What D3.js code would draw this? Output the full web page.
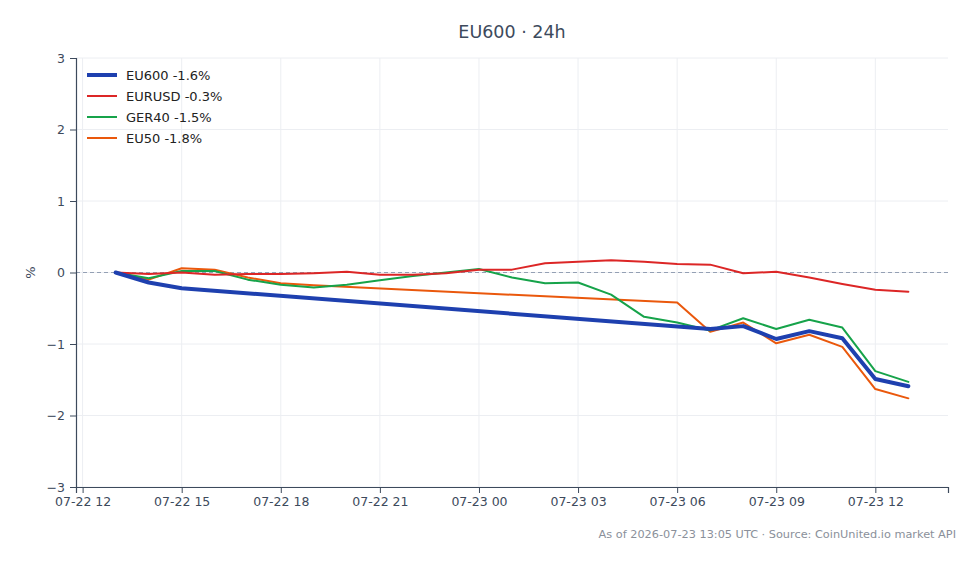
<!DOCTYPE html>
<html>
<head>
<meta charset="utf-8">
<script src="https://cdn.jsdelivr.net/npm/d3@7"></script>
<style>
  body { margin: 0; background: #fff; font-family: "DejaVu Sans", sans-serif; }
  svg { display: block; }
</style>
</head>
<body>
<div id="chart"></div>
<script>
// hourly stamps, UTC
const hoursAll = d3.utcHours(new Date(Date.UTC(2026, 6, 22, 13)), new Date(Date.UTC(2026, 6, 23, 14)));
const hoursEarly = hoursAll.slice(0, 3);           // 13..15
const hoursEarly50 = hoursAll.slice(0, 7);         // 13..19
const hoursLate = hoursAll.slice(18);              // 07-23 07..13
const hoursLate50 = hoursAll.slice(17);            // 07-23 06..13

const eu600Values = [0, -0.14, -0.22, -0.79, -0.75, -0.93, -0.82, -0.92, -1.49, -1.59];
const eurusdValues = [0, -0.02, 0.0, -0.03, -0.02, -0.02, -0.01, 0.01, -0.03, -0.03, -0.01, 0.04, 0.04,
  0.13, 0.15, 0.17, 0.15, 0.12, 0.11, -0.01, 0.01, -0.07, -0.16, -0.24, -0.27];
const ger40Values = [0, -0.08, 0.02, 0.02, -0.10, -0.17, -0.21, -0.17, -0.11, -0.05, 0.0, 0.05, -0.07,
  -0.15, -0.14, -0.31, -0.62, -0.70, -0.81, -0.64, -0.79, -0.66, -0.77, -1.38, -1.53];
const eu50Values = [0, -0.10, 0.06, 0.04, -0.07, -0.15, -0.18, -0.42, -0.83, -0.70, -0.99, -0.87, -1.04, -1.63, -1.76];

const seriesNames = ["EU600", "EURUSD", "GER40", "EU50"];
const seriesLabels = ["EU600 -1.6%", "EURUSD -0.3%", "GER40 -1.5%", "EU50 -1.8%"];
const seriesColors = ["#1e40af", "#dc2626", "#16a34a", "#ea580c"];
const seriesWidths = [4, 2, 2, 2];

const series = [
  hoursEarly.concat(hoursLate).map((t, i) => ({ t, v: eu600Values[i] })),
  hoursAll.map((t, i) => ({ t, v: eurusdValues[i] })),
  hoursAll.map((t, i) => ({ t, v: ger40Values[i] })),
  hoursEarly50.concat(hoursLate50).map((t, i) => ({ t, v: eu50Values[i] })),
];

const W = 980, H = 564;
const M = { top: 58, right: 32, bottom: 77, left: 76 };
const iw = W - M.left - M.right, ih = H - M.top - M.bottom;

const svg = d3.select("#chart").append("svg").attr("width", W).attr("height", H);

const t0 = hoursAll[0], t1 = hoursAll[hoursAll.length - 1];
const pad = (t1 - t0) * 0.05;
const x = d3.scaleUtc().domain([new Date(+t0 - pad), new Date(+t1 + pad)]).range([0, iw]);
const y = d3.scaleLinear().domain([-3, 3]).range([ih, 0]);

const g = svg.append("g").attr("transform", `translate(${M.left},${M.top})`);

const xTicks = d3.utcHour.every(3).range(x.domain()[0], x.domain()[1]);
const yTicks = d3.range(-3, 4);

// grid
g.append("g").selectAll("line").data(xTicks).join("line")
  .attr("x1", d => x(d)).attr("x2", d => x(d)).attr("y1", 0).attr("y2", ih)
  .attr("stroke", "#eceef2").attr("stroke-width", 1);
g.append("g").selectAll("line").data(yTicks).join("line")
  .attr("x1", 0).attr("x2", iw).attr("y1", d => y(d)).attr("y2", d => y(d))
  .attr("stroke", "#eceef2").attr("stroke-width", 1);

// zero line
g.append("line").attr("x1", 0).attr("x2", iw).attr("y1", y(0)).attr("y2", y(0))
  .attr("stroke", "#94a0b4").attr("stroke-width", 1).attr("stroke-dasharray", "4,3");

// axes
const axisColor = "#3d4a5c";
const xAxis = g.append("g").attr("transform", `translate(0,${ih})`)
  .call(d3.axisBottom(x).tickValues(xTicks).tickFormat(d3.utcFormat("%m-%d %H")).tickSize(6).tickPadding(4));
const yAxis = g.append("g")
  .call(d3.axisLeft(y).tickValues(yTicks).tickFormat(d3.format("d")).tickSize(6).tickPadding(5));
[xAxis, yAxis].forEach(a => {
  a.select(".domain").attr("stroke", axisColor).attr("stroke-width", 1.2);
  a.selectAll(".tick line").attr("stroke", axisColor);
  a.selectAll(".tick text").attr("fill", "#3d4a5c").attr("font-size", 12.5)
    .attr("font-family", "DejaVu Sans, sans-serif");
});

// lines
const line = d3.line().x(d => x(d.t)).y(d => y(d.v));
g.append("g").selectAll("path").data(series.map((s, i) => ({ s, i })).reverse()).join("path")
  .attr("d", d => line(d.s))
  .attr("fill", "none")
  .attr("stroke", d => seriesColors[d.i])
  .attr("stroke-width", d => seriesWidths[d.i])
  .attr("stroke-linejoin", "round")
  .attr("stroke-linecap", "round");

// legend
const leg = g.append("g").attr("transform", "translate(11,17)");
seriesNames.forEach((n, i) => {
  const row = leg.append("g").attr("transform", `translate(0,${i * 21})`);
  row.append("line").attr("x1", 0).attr("x2", 30).attr("y1", 0).attr("y2", 0)
    .attr("stroke", seriesColors[i]).attr("stroke-width", seriesWidths[i]);
  row.append("text").attr("x", 39).attr("y", 0).attr("dy", "0.35em")
    .attr("font-size", 13).attr("fill", "#222").text(seriesLabels[i]);
});

// title, labels, footer
svg.append("text").attr("x", M.left + iw / 2).attr("y", 38).attr("text-anchor", "middle")
  .attr("font-size", 17.5).attr("fill", "#3d4a5c").text("EU600 · 24h");
svg.append("text").attr("transform", `translate(35,${M.top + y(0)}) rotate(-90)`)
  .attr("text-anchor", "middle").attr("font-size", 13).attr("fill", "#3d4a5c").text("%");
svg.append("text").attr("x", 956).attr("y", 538).attr("text-anchor", "end")
  .attr("font-size", 11.3).attr("fill", "#8a909a")
  .text("As of 2026-07-23 13:05 UTC · Source: CoinUnited.io market API");
</script>
</body>
</html>
